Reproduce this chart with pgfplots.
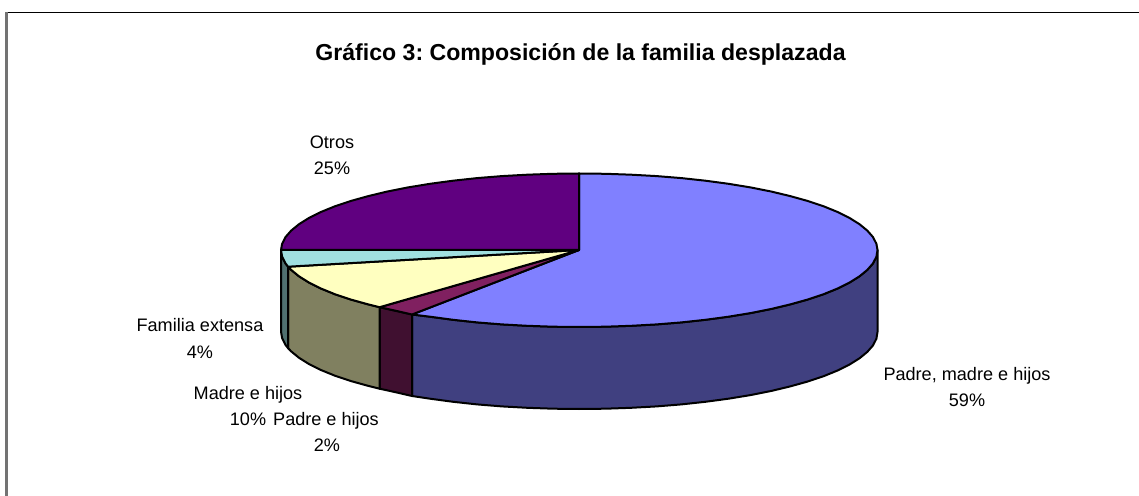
\documentclass[border=0pt]{standalone}
\usepackage{fontspec}
\setmainfont{Liberation Sans}
\usepackage{pgfplots}
\pgfplotsset{compat=1.18}
\frenchspacing
\definecolor{cBlue}{HTML}{8080FF}
\definecolor{cBlueD}{HTML}{404080}
\definecolor{cMaroon}{HTML}{802060}
\definecolor{cMaroonD}{HTML}{401030}
\definecolor{cYellow}{HTML}{FFFFC0}
\definecolor{cYellowD}{HTML}{808060}
\definecolor{cCyan}{HTML}{A0E0E0}
\definecolor{cCyanD}{HTML}{507070}
\definecolor{cPurple}{HTML}{600080}
\tikzset{lbl/.style={font=\fontsize{9.05}{11}\selectfont,anchor=base,inner sep=0pt,text=black}}
\begin{document}
\begin{tikzpicture}
\begin{axis}[
  hide axis,
  scale only axis,
  width=569.5pt,
  height=248pt,
  xmin=0, xmax=1139,
  ymin=0, ymax=496,
  y dir=reverse,
  no markers,
  every axis plot/.append style={line width=1pt,line join=round,draw=black},
]
% keep the full page size, the axis is hidden
\path (axis cs:0,0) rectangle (axis cs:1139,496);
% chart frame, only top and left show
\addplot[draw=black,line width=0.9pt] coordinates {(7,12.5) (1139,12.5)};
\addplot[draw=black!55,line width=1.1pt] coordinates {(6.5,12) (6.5,496)};

% side walls
\addplot[fill=cBlueD] coordinates {
  (877.5,250) (876.4,256.7) (873,263.4) (867.3,269.9) (859.5,276.3) (849.6,282.5)
  (837.6,288.5) (823.6,294.2) (807.8,299.5) (790.2,304.4) (771.1,309) (750.4,313.1)
  (728.5,316.7) (705.4,319.8) (681.4,322.4) (656.6,324.4) (631.2,325.8) (605.5,326.7)
  (579,327) (553,326.7) (527.3,325.8) (501.9,324.4) (477.1,322.4) (453.1,319.8)
  (430,316.7) (412,314.5)
  (412,396) (430,398.7) (453.1,401.8) (477.1,404.4) (501.9,406.4) (527.3,407.8)
  (553,408.7) (579,409) (605.5,408.7) (631.2,407.8) (656.6,406.4) (681.4,404.4)
  (705.4,401.8) (728.5,398.7) (750.4,395.1) (771.1,391) (790.2,386.4) (807.8,381.5)
  (823.6,376.2) (837.6,370.5) (849.6,364.5) (859.5,358.3) (867.3,351.9) (873,345.4)
  (876.4,338.7) (877.5,332)} --cycle;
\addplot[fill=cMaroonD] coordinates {
  (412,314.5) (395.5,310.7) (379.6,307.2) (379.6,388.7) (395.5,392.2) (412,396)} --cycle;
\addplot[fill=cYellowD] coordinates {
  (379.6,307.2) (368.3,304.4) (350.7,299.5) (334.9,294.2) (320.9,288.5) (308.9,282.5)
  (299,276.3) (291.2,269.9) (288.1,266.7)
  (288.1,348.2) (291.2,351.4) (299,357.8) (308.9,364) (320.9,370) (334.9,375.7)
  (350.7,381) (368.3,385.9) (379.6,388.7)} --cycle;
\addplot[fill=cCyanD] coordinates {
  (288.1,266.7) (285.5,263.4) (282.1,256.7) (281,250)
  (281,331.5) (282.1,338.2) (285.5,344.9) (288.1,348.2)} --cycle;

% top face: Padre, madre e hijos 59
\addplot[fill=cBlue] coordinates {
  (579,250) (579,173.5) (605.5,173.8) (631.2,174.7) (656.6,176.1) (681.4,178.1) (705.4,180.7)
  (728.5,183.8) (750.4,187.4) (771.1,191.5) (790.2,196.1) (807.8,201) (823.6,206.3)
  (837.6,212) (849.6,218) (859.5,224.2) (867.3,230.6) (873,237.1) (876.4,243.8)
  (877.5,250) (876.4,256.7) (873,263.4) (867.3,269.9) (859.5,276.3) (849.6,282.5)
  (837.6,288.5) (823.6,294.2) (807.8,299.5) (790.2,304.4) (771.1,309) (750.4,313.1)
  (728.5,316.7) (705.4,319.8) (681.4,322.4) (656.6,324.4) (631.2,325.8) (605.5,326.7)
  (579,327) (553,326.7) (527.3,325.8) (501.9,324.4) (477.1,322.4) (453.1,319.8)
  (430,316.7) (412,314.5)} --cycle;
% Padre e hijos 2
\addplot[fill=cMaroon] coordinates {
  (579,250) (412,314.5) (395.5,310.7) (379.6,307.2)} --cycle;
% Madre e hijos 10
\addplot[fill=cYellow] coordinates {
  (579,250) (379.6,307.2) (368.3,304.4) (350.7,299.5) (334.9,294.2) (320.9,288.5)
  (308.9,282.5) (299,276.3) (291.2,269.9) (288.1,266.7)} --cycle;
% Familia extensa 4
\addplot[fill=cCyan] coordinates {
  (579,250) (288.1,266.7) (285.5,263.4) (282.1,256.7) (281,250)} --cycle;
% Otros 25
\addplot[fill=cPurple] coordinates {
  (579,250) (281,250) (282.1,243.8) (285.5,237.1) (291.2,230.6) (299,224.2) (308.9,218)
  (320.9,212) (334.9,206.3) (350.7,201) (368.3,196.1) (387.4,191.5) (408.1,187.4)
  (430,183.8) (453.1,180.7) (477.1,178.1) (501.9,176.1) (527.3,174.7) (553,173.8)
  (579,173.5)} --cycle;

\node[anchor=base,inner sep=0pt,font=\fontsize{11.55}{13}\selectfont\bfseries] at (axis cs:580.5,61) {Gráfico 3: Composición de la familia desplazada};
\node[lbl] at (axis cs:332,149) {Otros};
\node[lbl] at (axis cs:332,175) {25\%};
\node[lbl] at (axis cs:967,380) {Padre, madre e hijos};
\node[lbl] at (axis cs:967,406) {59\%};
\node[lbl] at (axis cs:200,332) {Familia extensa};
\node[lbl] at (axis cs:200,358) {4\%};
\node[lbl] at (axis cs:248,399) {Madre e hijos};
\node[lbl] at (axis cs:248,425) {10\%};
\node[lbl] at (axis cs:326,425) {Padre e hijos};
\node[lbl] at (axis cs:327,451) {2\%};
\end{axis}
\end{tikzpicture}
\end{document}
